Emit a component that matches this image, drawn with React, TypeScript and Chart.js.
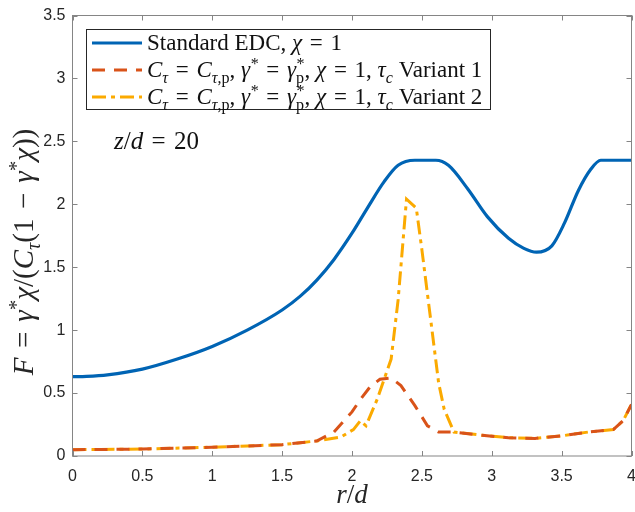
import React, { useEffect, useRef } from "react";
import { Chart, registerables } from "chart.js";

Chart.register(...registerables);

// ---------- data ----------
const blueR = [0, 0.1, 0.25, 0.5, 0.75, 1.0, 1.25, 1.5, 1.63, 1.75, 1.87, 2.0, 2.11, 2.23, 2.33, 2.45, 2.6, 2.69, 2.83, 2.97, 3.12, 3.23, 3.32, 3.43, 3.52, 3.62, 3.71, 3.78, 4.0];
const blueF = [0.63, 0.633, 0.645, 0.69, 0.77, 0.87, 1.0, 1.16, 1.27, 1.4, 1.56, 1.77, 1.97, 2.18, 2.31, 2.35, 2.35, 2.31, 2.12, 1.9, 1.73, 1.65, 1.62, 1.67, 1.85, 2.11, 2.28, 2.35, 2.35];

const redR = [0, 0.5, 1.0, 1.5, 1.75, 1.87, 2.0, 2.06, 2.13, 2.2, 2.28, 2.35, 2.45, 2.54, 2.62, 2.73, 2.93, 3.12, 3.31, 3.5, 3.69, 3.87, 3.94, 4.0];
const redF = [0.05, 0.055, 0.07, 0.09, 0.12, 0.19, 0.35, 0.45, 0.55, 0.61, 0.62, 0.56, 0.4, 0.24, 0.19, 0.19, 0.165, 0.145, 0.14, 0.16, 0.19, 0.21, 0.28, 0.41];

const orangeR = [0, 0.5, 1.0, 1.5, 1.75, 1.92, 2.01, 2.06, 2.1, 2.18, 2.28, 2.33, 2.39, 2.46, 2.5, 2.56, 2.62, 2.66, 2.73, 2.93, 3.12, 3.31, 3.5, 3.69, 3.87, 3.94, 4.0];
const orangeF = [0.05, 0.055, 0.07, 0.09, 0.12, 0.15, 0.21, 0.28, 0.24, 0.45, 0.77, 1.24, 2.04, 1.97, 1.64, 1.11, 0.58, 0.37, 0.19, 0.165, 0.145, 0.14, 0.16, 0.19, 0.21, 0.28, 0.41];

const xTicks = [0, 0.5, 1, 1.5, 2, 2.5, 3, 3.5, 4];
const xTickLabels = ["0", "0.5", "1", "1.5", "2", "2.5", "3", "3.5", "4"];
const yTicks = [0, 0.5, 1, 1.5, 2, 2.5, 3, 3.5];
const yTickLabels = ["0", "0.5", "1", "1.5", "2", "2.5", "3", "3.5"];

const seriesNames = ["Standard EDC", "Variant 1", "Variant 2"];

const BLUE = "#0064B4";
const RED = "#D95319";
const ORANGE = "#FBAA00";

// ---------- rich text ----------
type Seg = { t: string; it?: boolean; sup?: Seg[]; sub?: Seg[] };
const SERIF = '"Liberation Serif", "DejaVu Serif", serif';
const fnt = (size: number, it?: boolean) => `${it ? "italic " : ""}${size}px ${SERIF}`;
const SP = "\u2004";
const EQ = SP + "=" + SP;

function richWidth(ctx: CanvasRenderingContext2D, segs: Seg[], size: number): number {
  let w = 0;
  for (const s of segs) {
    ctx.font = fnt(size, s.it);
    w += ctx.measureText(s.t).width;
    const sw = s.sup ? richWidth(ctx, s.sup, size * 0.7) + 0.5 : 0;
    const bw = s.sub ? richWidth(ctx, s.sub, size * 0.7) : 0;
    w += Math.max(sw, bw);
  }
  return w;
}

function drawRich(ctx: CanvasRenderingContext2D, segs: Seg[], x: number, y: number, size: number): number {
  for (const s of segs) {
    ctx.font = fnt(size, s.it);
    ctx.fillText(s.t, x, y);
    x += ctx.measureText(s.t).width;
    let sw = 0, bw = 0;
    if (s.sup) sw = drawRich(ctx, s.sup, x + 0.5, y - size * 0.36, size * 0.7) - x;
    if (s.sub) bw = drawRich(ctx, s.sub, x, y + size * 0.24, size * 0.7) - x;
    x += Math.max(sw, bw);
  }
  return x;
}

const star: Seg[] = [{ t: "*" }];
const variantLine = (name: string): Seg[] => [
  { t: "C", it: true, sub: [{ t: "τ", it: true }] }, { t: EQ },
  { t: "C", it: true, sub: [{ t: "τ", it: true }, { t: ",p" }] }, { t: ", " },
  { t: "γ", it: true, sup: star }, { t: EQ },
  { t: "γ", it: true, sup: star, sub: [{ t: "p" }] }, { t: ", " },
  { t: "χ", it: true }, { t: EQ + "1, " },
  { t: "τ", it: true, sub: [{ t: "c", it: true }] }, { t: " " + name },
];
const legendLines: Seg[][] = [
  [{ t: "Standard EDC, " }, { t: "χ", it: true }, { t: EQ + "1" }],
  variantLine(seriesNames[1]),
  variantLine(seriesNames[2]),
];
const yTitle: Seg[] = [
  { t: "F", it: true }, { t: EQ },
  { t: "γ", it: true, sup: star }, { t: "χ", it: true }, { t: "/(" },
  { t: "C", it: true, sub: [{ t: "τ", it: true }] }, { t: "(1" + SP + "−" + SP },
  { t: "γ", it: true, sup: star }, { t: "χ", it: true }, { t: "))" },
];
const xTitle: Seg[] = [{ t: "r", it: true }, { t: "/" }, { t: "d", it: true }];
const annot: Seg[] = [{ t: "z", it: true }, { t: "/" }, { t: "d", it: true }, { t: EQ + "20" }];

const overlay = {
  id: "overlay",
  afterDraw(chart: any) {
    const { ctx, chartArea, scales } = chart;
    const { left, right, top, bottom } = chartArea;
    const xs = scales.x, ys = scales.y;
    ctx.save();
    // axes box
    ctx.strokeStyle = "#858585";
    ctx.lineWidth = 1;
    ctx.strokeRect(left, top, right - left, bottom - top);
    // ticks inward
    ctx.beginPath();
    for (const v of xTicks) {
      const px = Math.round(xs.getPixelForValue(v)) + 0.5;
      ctx.moveTo(px, bottom); ctx.lineTo(px, bottom - 5);
      ctx.moveTo(px, top); ctx.lineTo(px, top + 5);
    }
    for (const v of yTicks) {
      const py = Math.round(ys.getPixelForValue(v)) + 0.5;
      ctx.moveTo(left, py); ctx.lineTo(left + 5, py);
      ctx.moveTo(right, py); ctx.lineTo(right - 5, py);
    }
    ctx.stroke();
    // tick labels
    ctx.fillStyle = "#262626";
    ctx.font = '16px "Liberation Sans", Arial, sans-serif';
    ctx.textAlign = "center";
    ctx.textBaseline = "top";
    xTicks.forEach((v, i) => ctx.fillText(xTickLabels[i], xs.getPixelForValue(v), bottom + 13));
    ctx.textAlign = "right";
    ctx.textBaseline = "middle";
    yTicks.forEach((v, i) => ctx.fillText(yTickLabels[i], left - 7, ys.getPixelForValue(v)));
    // axis titles
    ctx.textAlign = "left";
    ctx.textBaseline = "alphabetic";
    const xw = richWidth(ctx, xTitle, 27);
    drawRich(ctx, xTitle, (left + right) / 2 - xw / 2, 503, 27);
    ctx.save();
    ctx.translate(33, 252);
    ctx.rotate(-Math.PI / 2);
    const yw = richWidth(ctx, yTitle, 29);
    drawRich(ctx, yTitle, -yw / 2, 0, 29);
    ctx.restore();
    // annotation
    ctx.fillStyle = "#111111";
    drawRich(ctx, annot, 114, 149, 25);
    // legend
    const lx = 86.5, ly = 29.5, lw = 404, lh = 80;
    ctx.fillStyle = "#ffffff";
    ctx.fillRect(lx, ly, lw, lh);
    ctx.strokeStyle = "#262626";
    ctx.lineWidth = 1;
    ctx.strokeRect(lx, ly, lw, lh);
    const colors = [BLUE, RED, ORANGE];
    const dashes = [[], [13, 9], [14, 5, 4, 5]];
    const rowsY = [43, 70, 97];
    for (let i = 0; i < 3; i++) {
      ctx.strokeStyle = colors[i];
      ctx.lineWidth = 3;
      ctx.setLineDash(dashes[i]);
      ctx.beginPath();
      ctx.moveTo(92, rowsY[i]);
      ctx.lineTo(142, rowsY[i]);
      ctx.stroke();
      ctx.setLineDash([]);
      ctx.fillStyle = "#111111";
      const target = i === 0 ? 196 : 339;
      const base = richWidth(ctx, legendLines[i], 22);
      const sz = Math.min(23, 22 * target / base);
      drawRich(ctx, legendLines[i], 147, rowsY[i] + 7, sz);
    }
    ctx.restore();
  },
};

export default function App() {
  const ref = useRef<HTMLCanvasElement>(null);
  useEffect(() => {
    const mk = (r: number[], f: number[]) => r.map((v, i) => ({ x: v, y: f[i] }));
    const chart = new Chart(ref.current!, {
      type: "line",
      data: {
        datasets: [
          { label: seriesNames[0], data: mk(blueR, blueF), borderColor: BLUE, borderWidth: 3.2, pointRadius: 0, tension: 0.3, cubicInterpolationMode: "monotone" },
          { label: seriesNames[1], data: mk(redR, redF), borderColor: RED, borderWidth: 3, borderDash: [13, 9], pointRadius: 0, tension: 0 },
          { label: seriesNames[2], data: mk(orangeR, orangeF), borderColor: ORANGE, borderWidth: 3, borderDash: [14, 5, 4, 5], pointRadius: 0, tension: 0 },
        ],
      },
      options: {
        animation: false,
        responsive: false,
        layout: { padding: { left: 72.5, right: 3.5, top: 15.5, bottom: 56 } },
        plugins: { legend: { display: false }, tooltip: { enabled: false } },
        scales: {
          x: { type: "linear", min: 0, max: 4, display: false },
          y: { type: "linear", min: 0, max: 3.5, display: false },
        },
      },
      plugins: [overlay],
    } as any);
    return () => chart.destroy();
  }, []);
  return (
    <div style={{ position: "absolute", left: 0, top: 0, width: 635, height: 512, background: "#fff" }}>
      <canvas ref={ref} width={635} height={512} style={{ display: "block" }} />
    </div>
  );
}
